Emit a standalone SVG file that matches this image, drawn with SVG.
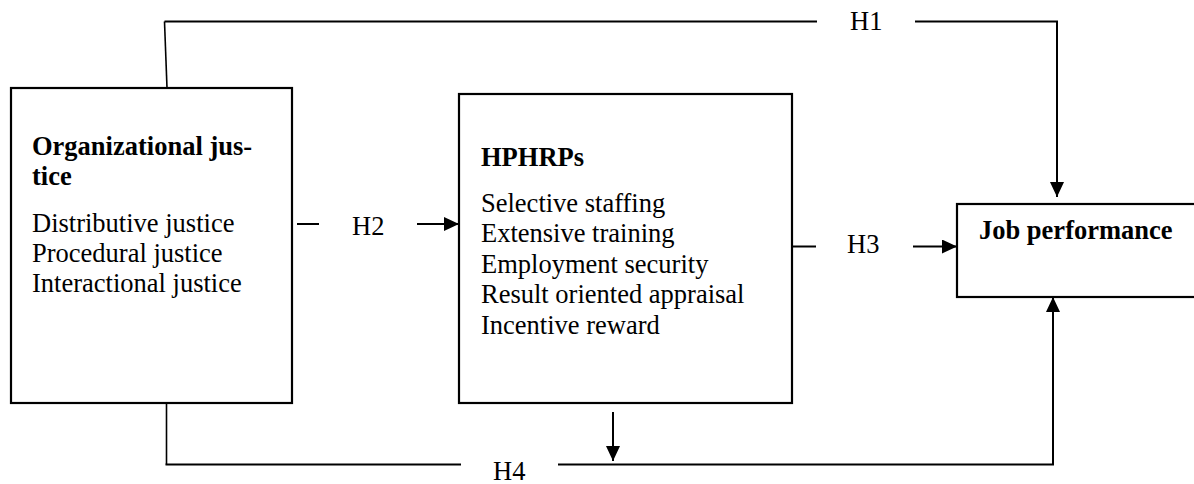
<svg xmlns="http://www.w3.org/2000/svg" width="1194" height="484" viewBox="0 0 1194 484">
  <style>
    .box { fill: #fff; stroke: #000; stroke-width: 2.2; }
    .ln { fill: none; stroke: #000; stroke-width: 2; }
    .thin { fill: none; stroke: #000; stroke-width: 1.6; }
    text { font-family: "Liberation Serif", "Times New Roman", serif; font-size: 26.5px; fill: #000; }
    .b { font-weight: bold; }
  </style>
  <defs>
    <marker id="ah" viewBox="0 0 15 14" refX="15" refY="7" markerWidth="15" markerHeight="14" markerUnits="userSpaceOnUse" orient="auto">
      <path d="M0,0 L15,7 L0,14 Z" fill="#000"/>
    </marker>
  </defs>

  <g id="connectors">
    <!-- H1 -->
    <path class="thin" d="M167,88 L164.5,21.5"/>
    <path class="ln" d="M164.5,21.5 L817,21.5"/>
    <path class="ln" d="M915,21.5 L1057,21.5 L1057,197" marker-end="url(#ah)"/>
    <!-- H2 -->
    <path class="ln" d="M297,224 L319,224"/>
    <path class="ln" d="M417,224 L459,224" marker-end="url(#ah)"/>
    <!-- H3 -->
    <path class="ln" d="M789,246.5 L816,246.5"/>
    <path class="ln" d="M913,246.5 L957,246.5" marker-end="url(#ah)"/>
    <!-- H4 -->
    <path class="thin" d="M166.5,404 L166.5,464.5"/>
    <path class="ln" d="M165.5,464.5 L461,464.5"/>
    <path class="ln" d="M558,464.5 L1053,464.5 L1053,297" marker-end="url(#ah)"/>
    <path class="ln" d="M613,412 L613,461" marker-end="url(#ah)"/>
    <text x="850" y="30">H1</text>
    <text x="352" y="235">H2</text>
    <text x="847" y="253">H3</text>
    <text x="493" y="480">H4</text>
  </g>

  <g id="org-justice">
    <rect class="box" x="11" y="88" width="281" height="315"/>
    <text class="b" x="32" y="155">Organizational jus-</text>
    <text class="b" x="32" y="185">tice</text>
    <text x="32" y="232">Distributive justice</text>
    <text x="32" y="262">Procedural justice</text>
    <text x="32" y="292">Interactional justice</text>
  </g>

  <g id="hphrps">
    <rect class="box" x="459" y="94" width="333" height="309"/>
    <text class="b" x="481" y="166">HPHRPs</text>
    <text x="481" y="212">Selective staffing</text>
    <text x="481" y="242">Extensive training</text>
    <text x="481" y="273">Employment security</text>
    <text x="481" y="303">Result oriented appraisal</text>
    <text x="481" y="334">Incentive reward</text>
  </g>

  <g id="job-performance">
    <rect class="box" x="957" y="204" width="250" height="93"/>
    <text class="b" x="979" y="239">Job performance</text>
  </g>
</svg>
